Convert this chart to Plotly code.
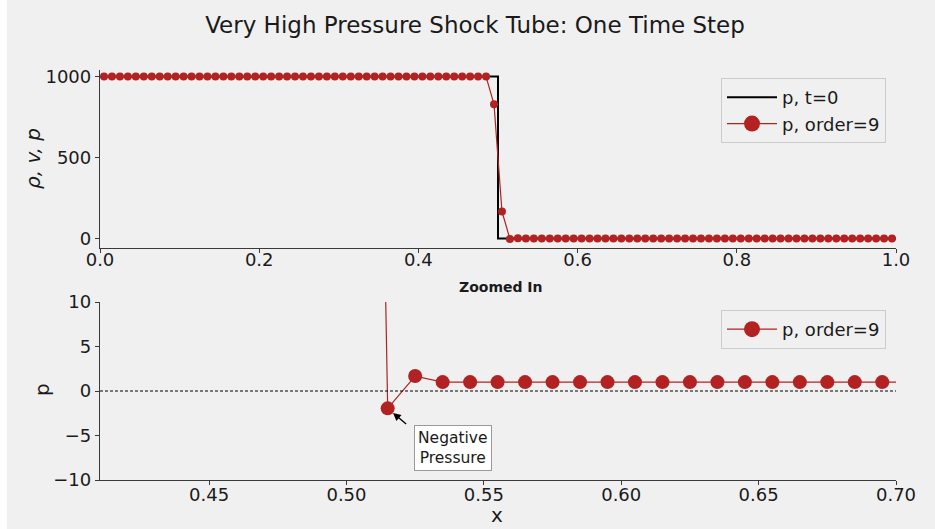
import plotly.graph_objects as go

# Cell-centre coordinates of the 100-cell grid
x_cells = [
    0.005, 0.015, 0.025, 0.035, 0.045, 0.055, 0.065, 0.075, 0.085, 0.095,
    0.105, 0.115, 0.125, 0.135, 0.145, 0.155, 0.165, 0.175, 0.185, 0.195,
    0.205, 0.215, 0.225, 0.235, 0.245, 0.255, 0.265, 0.275, 0.285, 0.295,
    0.305, 0.315, 0.325, 0.335, 0.345, 0.355, 0.365, 0.375, 0.385, 0.395,
    0.405, 0.415, 0.425, 0.435, 0.445, 0.455, 0.465, 0.475, 0.485, 0.495,
    0.505, 0.515, 0.525, 0.535, 0.545, 0.555, 0.565, 0.575, 0.585, 0.595,
    0.605, 0.615, 0.625, 0.635, 0.645, 0.655, 0.665, 0.675, 0.685, 0.695,
    0.705, 0.715, 0.725, 0.735, 0.745, 0.755, 0.765, 0.775, 0.785, 0.795,
    0.805, 0.815, 0.825, 0.835, 0.845, 0.855, 0.865, 0.875, 0.885, 0.895,
    0.905, 0.915, 0.925, 0.935, 0.945, 0.955, 0.965, 0.975, 0.985, 0.995,
]

# Pressure after one step with the 9th-order scheme
p_order9 = [1000.0] * 49 + [828.0, 167.0, -1.95, 1.68] + [1.0] * 47

# Initial pressure profile (discontinuity at x = 0.5)
x_init = [0.0, 0.5, 0.5, 1.0]
p_init = [1000.0, 1000.0, 1.0, 1.0]

top_xticks = [0.0, 0.2, 0.4, 0.6, 0.8, 1.0]
top_yticks = [0, 500, 1000]
zoom_xticks = [0.45, 0.50, 0.55, 0.60, 0.65, 0.70]
zoom_yticks = [-10, -5, 0, 5, 10]

RED = "#b22222"
BG = "#f0f0f0"
FONT = "DejaVu Sans"
W, H = 935, 529
ML, MR, MT, MB = 100, 39, 70, 49
PW, PH = W - ML - MR, H - MT - MB


def px_x(px):
    return (px - ML) / PW


def px_y(py):
    return (H - MB - py) / PH


fig = go.Figure()

# Top panel: full domain
fig.add_trace(go.Scatter(
    x=x_init, y=p_init, mode="lines", name="p, t=0",
    line=dict(color="black", width=2), xaxis="x", yaxis="y",
    legend="legend", showlegend=True,
))
fig.add_trace(go.Scatter(
    x=x_cells, y=p_order9, mode="lines+markers", name="p, order=9",
    line=dict(color=RED, width=1.2), marker=dict(color=RED, size=8),
    xaxis="x", yaxis="y", showlegend=False,
))
fig.add_trace(go.Scatter(
    x=[None], y=[None], mode="lines+markers", name="p, order=9",
    line=dict(color=RED, width=1.2), marker=dict(color=RED, size=16),
    xaxis="x", yaxis="y", legend="legend", showlegend=True,
))

# Bottom panel: zoom near the shock
fig.add_trace(go.Scatter(
    x=x_cells, y=p_order9, mode="lines+markers", name="p, order=9",
    line=dict(color=RED, width=1.2), marker=dict(color=RED, size=14),
    xaxis="x2", yaxis="y2", showlegend=False,
))
fig.add_trace(go.Scatter(
    x=[None], y=[None], mode="lines+markers", name="p, order=9",
    line=dict(color=RED, width=1.2), marker=dict(color=RED, size=16),
    xaxis="x2", yaxis="y2", legend="legend2", showlegend=True,
))

axis_common = dict(
    showline=True, linecolor="#3a3a3a", linewidth=1.3,
    ticks="outside", ticklen=4, tickwidth=1.2, tickcolor="#3a3a3a",
    showgrid=False, zeroline=False,
    tickfont=dict(family=FONT, size=18, color="#1a1a1a"),
    mirror=False,
)

top_dom = [px_y(248), px_y(70)]
bot_dom = [px_y(480), px_y(302)]

fig.update_layout(
    width=W, height=H,
    margin=dict(l=ML, r=MR, t=MT, b=MB),
    paper_bgcolor=BG, plot_bgcolor=BG,
    font=dict(family=FONT, size=18, color="#1a1a1a"),
    title=dict(
        text="Very High Pressure Shock Tube: One Time Step",
        font=dict(family=FONT, size=23, color="#1a1a1a"),
        xref="container", yref="container",
        x=475 / W, xanchor="center", y=1 - 25 / H, yanchor="middle",
    ),
    xaxis=dict(axis_common, domain=[0, 1], anchor="y", range=[0, 1.0],
               tickvals=top_xticks, tickformat=".1f", ticklabelstandoff=-9),
    yaxis=dict(axis_common, domain=top_dom, anchor="x", range=[-58, 1040],
               tickvals=top_yticks),
    xaxis2=dict(axis_common, domain=[0, 1], anchor="y2", range=[0.4103, 0.70],
                tickvals=zoom_xticks, tickformat=".2f", ticklabelstandoff=-6),
    yaxis2=dict(axis_common, domain=bot_dom, anchor="x2", range=[-10, 10],
                tickvals=zoom_yticks),
    legend=dict(
        x=px_x(886), xanchor="right", y=px_y(78), yanchor="top",
        bgcolor=BG, bordercolor="#cccccc", borderwidth=1,
        font=dict(family=FONT, size=18, color="#1a1a1a"),
        itemwidth=50,
    ),
    legend2=dict(
        x=px_x(886), xanchor="right", y=px_y(310), yanchor="top",
        bgcolor=BG, bordercolor="#cccccc", borderwidth=1,
        font=dict(family=FONT, size=18, color="#1a1a1a"),
        itemwidth=50,
    ),
    showlegend=True,
)

# Zero reference line on the zoomed panel
fig.add_shape(type="line", xref="x2 domain", yref="y2", x0=0, x1=1, y0=0, y1=0,
              line=dict(color="black", width=1, dash="3px,2px"))

# Thin white strip along the left edge of the canvas
fig.add_shape(type="rect", xref="paper", yref="paper",
              x0=px_x(0), x1=px_x(7), y0=px_y(H), y1=px_y(0),
              fillcolor="white", line=dict(width=0), layer="below")

annotations = [
    dict(text="<i>ρ, v, p</i>", xref="paper", yref="paper",
         x=px_x(33), y=px_y(159), xanchor="center", yanchor="middle",
         textangle=-90, showarrow=False, font=dict(size=20)),
    dict(text="p", xref="paper", yref="paper",
         x=px_x(42), y=px_y(390), xanchor="center", yanchor="middle",
         textangle=-90, showarrow=False, font=dict(size=20)),
    dict(text="x", xref="paper", yref="paper",
         x=px_x(497), y=px_y(528), xanchor="center", yanchor="bottom",
         showarrow=False, font=dict(size=20), borderpad=0),
    dict(text="<b>Zoomed In</b>", xref="paper", yref="paper",
         x=px_x(501), y=px_y(287), xanchor="center", yanchor="middle",
         showarrow=False, font=dict(size=14)),
    dict(text="Negative<br>Pressure", xref="paper", yref="paper",
         x=px_x(453), y=px_y(448), xanchor="center", yanchor="middle",
         showarrow=False, font=dict(size=15.5), align="center",
         bgcolor="white", bordercolor="#999999", borderwidth=1, borderpad=3),
    dict(text="", x=x_cells[51], y=p_order9[51], xref="x2", yref="y2",
         showarrow=True, ax=20, ay=17, axref="pixel", ayref="pixel",
         arrowhead=2, arrowsize=1.2, arrowwidth=1.3, arrowcolor="black",
         standoff=7),
]
fig.update_layout(annotations=annotations)

fig.write_html("out.html")
